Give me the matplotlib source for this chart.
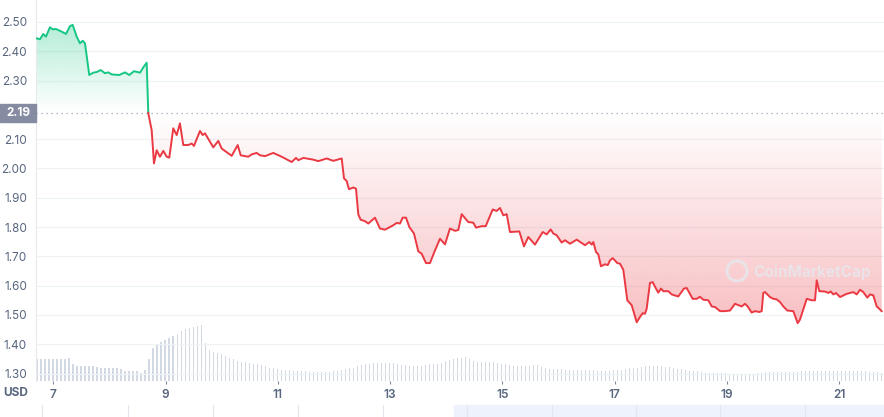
import numpy as np
import matplotlib
matplotlib.use("Agg")
from matplotlib import pyplot as plt
from matplotlib.patches import Polygon, Rectangle, Circle

# price (USD) over days of the month
days = [6.704, 6.763, 6.822, 6.870, 6.941, 6.989, 7.048, 7.150, 7.226, 7.298,
        7.346, 7.417, 7.476, 7.524, 7.565, 7.641, 7.713, 7.773, 7.844, 7.921,
        7.980, 8.041, 8.176, 8.278, 8.354, 8.438, 8.545, 8.604, 8.664, 8.693,
        8.753, 8.794, 8.842, 8.901, 8.960, 9.021, 9.067, 9.138, 9.199, 9.257,
        9.316, 9.405, 9.466, 9.507, 9.614, 9.662, 9.703, 9.851, 9.940, 10.000,
        10.179, 10.286, 10.339, 10.475, 10.535, 10.624, 10.683, 10.772, 10.920, 11.070,
        11.248, 11.325, 11.366, 11.455, 11.633, 11.722, 11.872, 11.989, 12.139, 12.180,
        12.228, 12.269, 12.346, 12.394, 12.435, 12.477, 12.554, 12.613, 12.732, 12.821,
        12.911, 13.000, 13.058, 13.119, 13.178, 13.226, 13.285, 13.344, 13.427, 13.504,
        13.564, 13.641, 13.712, 13.801, 13.890, 13.979, 14.068, 14.158, 14.217, 14.277,
        14.395, 14.484, 14.532, 14.634, 14.705, 14.830, 14.901, 14.960, 15.018, 15.079,
        15.138, 15.304, 15.387, 15.464, 15.583, 15.721, 15.792, 15.863, 15.909, 15.970,
        16.059, 16.118, 16.207, 16.327, 16.474, 16.551, 16.594, 16.623, 16.670, 16.711,
        16.759, 16.831, 16.879, 16.920, 16.968, 17.050, 17.098, 17.157, 17.228, 17.307,
        17.395, 17.454, 17.502, 17.543, 17.573, 17.632, 17.680, 17.739, 17.780, 17.828,
        17.869, 17.958, 18.019, 18.136, 18.238, 18.286, 18.327, 18.393, 18.465, 18.523,
        18.582, 18.672, 18.732, 18.791, 18.880, 18.969, 19.058, 19.147, 19.224, 19.266,
        19.325, 19.373, 19.444, 19.504, 19.580, 19.623, 19.651, 19.682, 19.771, 19.830,
        19.890, 19.949, 20.008, 20.079, 20.186, 20.264, 20.305, 20.425, 20.514, 20.573,
        20.603, 20.649, 20.751, 20.810, 20.852, 20.899, 20.947, 21.018, 21.138, 21.255,
        21.316, 21.375, 21.433, 21.505, 21.553, 21.611, 21.672, 21.761]
prices = [2.444, 2.441, 2.459, 2.450, 2.482, 2.475, 2.476, 2.467, 2.459, 2.486,
          2.490, 2.450, 2.427, 2.436, 2.427, 2.319, 2.327, 2.329, 2.336, 2.325,
          2.328, 2.321, 2.319, 2.328, 2.319, 2.332, 2.327, 2.345, 2.361, 2.188,
          2.131, 2.017, 2.062, 2.040, 2.060, 2.040, 2.037, 2.137, 2.114, 2.154,
          2.080, 2.080, 2.085, 2.077, 2.128, 2.114, 2.120, 2.072, 2.094, 2.068,
          2.043, 2.080, 2.045, 2.040, 2.048, 2.053, 2.045, 2.042, 2.053, 2.040,
          2.022, 2.036, 2.028, 2.036, 2.030, 2.025, 2.034, 2.026, 2.034, 1.966,
          1.957, 1.929, 1.935, 1.931, 1.843, 1.825, 1.820, 1.812, 1.832, 1.795,
          1.791, 1.800, 1.806, 1.814, 1.812, 1.832, 1.832, 1.800, 1.778, 1.717,
          1.709, 1.677, 1.677, 1.720, 1.760, 1.741, 1.795, 1.787, 1.790, 1.844,
          1.817, 1.815, 1.798, 1.803, 1.803, 1.860, 1.855, 1.865, 1.840, 1.844,
          1.783, 1.785, 1.734, 1.766, 1.740, 1.783, 1.775, 1.792, 1.778, 1.772,
          1.747, 1.755, 1.743, 1.757, 1.738, 1.749, 1.740, 1.749, 1.715, 1.707,
          1.666, 1.673, 1.670, 1.686, 1.694, 1.677, 1.675, 1.654, 1.550, 1.533,
          1.475, 1.493, 1.506, 1.504, 1.521, 1.609, 1.612, 1.590, 1.576, 1.590,
          1.581, 1.581, 1.570, 1.563, 1.590, 1.592, 1.578, 1.555, 1.555, 1.562,
          1.552, 1.550, 1.529, 1.527, 1.513, 1.513, 1.515, 1.538, 1.532, 1.529,
          1.538, 1.529, 1.508, 1.513, 1.510, 1.513, 1.575, 1.578, 1.561, 1.555,
          1.553, 1.544, 1.529, 1.515, 1.513, 1.472, 1.484, 1.555, 1.550, 1.550,
          1.618, 1.581, 1.580, 1.575, 1.580, 1.570, 1.575, 1.561, 1.572, 1.578,
          1.570, 1.586, 1.578, 1.559, 1.570, 1.567, 1.529, 1.513]

base_price = 2.19

# volume bars (arbitrary units), evenly spaced in time
vol_start = 6.710
vol_step = 0.0713
volume = [22, 22, 22, 22, 22, 22, 22, 22, 23, 17, 15, 15, 15, 15, 15, 14, 13, 13, 13, 13,
          13, 12, 10, 10, 10, 10, 8, 11, 22, 33, 37, 39, 41, 43, 45, 47, 50, 52, 53, 54,
          55, 56, 38, 31, 29, 28, 27, 25, 23, 22, 20, 19, 19, 18, 17, 17, 16, 15, 13, 13,
          12, 11, 11, 11, 10, 10, 10, 10, 9, 9, 9, 9, 9, 9, 10, 10, 11, 12, 13, 13,
          15, 16, 17, 17, 18, 18, 18, 18, 18, 18, 17, 16, 16, 15, 15, 15, 15, 16, 17, 17,
          17, 18, 20, 21, 22, 23, 23, 24, 22, 20, 19, 19, 19, 19, 19, 18, 17, 17, 16, 15,
          15, 15, 15, 15, 16, 16, 14, 13, 12, 12, 12, 12, 11, 11, 11, 11, 11, 11, 11, 11,
          10, 10, 10, 10, 11, 11, 11, 12, 13, 13, 13, 14, 15, 15, 15, 15, 15, 14, 14, 13,
          12, 12, 11, 10, 10, 10, 9, 8, 8, 8, 8, 8, 8, 7, 7, 7, 7, 7, 7, 7,
          8, 8, 9, 9, 9, 9, 9, 9, 9, 9, 9, 10, 10, 10, 10, 10, 10, 10, 10, 10,
          10, 10, 10, 10, 10, 10, 10, 10, 9, 9, 9, 8]

ytick_vals = [2.50, 2.40, 2.30, 2.10, 2.00, 1.90, 1.80, 1.70, 1.60, 1.50, 1.40, 1.30]
xtick_vals = [7, 9, 11, 13, 15, 17, 19, 21]

GREEN = "#16c784"
RED = "#ea3943"
TXT = "#58667e"
GRID = "#eff2f5"

plt.rcParams['font.family'] = ['Inter', 'DejaVu Sans']

d = np.array(days)
p = np.array(prices)

fig = plt.figure(figsize=(8.84, 4.17), dpi=100)
ax = fig.add_axes([36 / 884, 36 / 417, 848 / 884, 381 / 417])
ax.set_xlim(6.692, 21.802)
ax.set_ylim(1.2745, 2.575)

# volume axis underneath
ax2 = ax.twinx()
ax.set_zorder(ax2.get_zorder() + 1)
ax.patch.set_visible(False)
vt = vol_start + vol_step * np.arange(len(volume))
ax2.bar(vt, volume, width=0.02, color="#d3d9e3", linewidth=0)
ax2.set_ylim(0, 381)
ax2.axis("off")

# grid
for v in ytick_vals:
    ax.axhline(v, color=GRID, lw=0.9, zorder=0)

# gradient fills clipped to the area between price and the base line
x0, x1 = ax.get_xlim()
up = Polygon(np.column_stack([np.r_[d, d[::-1]],
                              np.r_[np.clip(p, base_price, None), np.full(len(d), base_price)]]),
             closed=True, fc="none", ec="none")
dn = Polygon(np.column_stack([np.r_[d, d[::-1]],
                              np.r_[np.clip(p, None, base_price), np.full(len(d), base_price)]]),
             closed=True, fc="none", ec="none")
ax.add_patch(up)
ax.add_patch(dn)

g = np.zeros((256, 1, 4))
g[:, 0, :3] = matplotlib.colors.to_rgb(GREEN)
g[:, 0, 3] = np.linspace(0.32, 0.0, 256)
im = ax.imshow(g, extent=[x0, x1, base_price, p.max()], aspect="auto", origin="upper", zorder=1)
im.set_clip_path(up)

r = np.zeros((256, 1, 4))
r[:, 0, :3] = matplotlib.colors.to_rgb(RED)
r[:, 0, 3] = np.linspace(0.0, 0.32, 256)
im2 = ax.imshow(r, extent=[x0, x1, p.min(), base_price], aspect="auto", origin="upper", zorder=1)
im2.set_clip_path(dn)

# line split at the base line
i = int(np.argmax(p < base_price))
t = (base_price - p[i - 1]) / (p[i] - p[i - 1])
xc = d[i - 1] + t * (d[i] - d[i - 1])
ax.plot(np.r_[d[:i], xc], np.r_[p[:i], base_price], color=GREEN, lw=1.4, zorder=3,
        solid_joinstyle="round")
ax.plot(np.r_[xc, d[i:]], np.r_[base_price, p[i:]], color=RED, lw=1.4, zorder=3,
        solid_joinstyle="round")

ax.axhline(base_price, color="#9aa3b2", lw=0.9, ls=(0, (1, 3)), zorder=2)
ax.set_xlim(x0, x1)
ax.set_ylim(1.2745, 2.575)

# axes styling
for s in ["top", "right", "bottom"]:
    ax.spines[s].set_visible(False)
ax.spines["left"].set_color("#e6e9ee")
ax.spines["left"].set_linewidth(0.8)
ax.set_yticks(ytick_vals)
ax.set_yticklabels([f"{v:.2f}" for v in ytick_vals])
ax.tick_params(axis="y", length=0, pad=6.5, labelsize=8.5, labelcolor=TXT)
ax.set_xticks(xtick_vals)
ax.set_xticklabels([str(v) for v in xtick_vals])
ax.tick_params(axis="x", length=2.5, width=0.8, color="#808a9d", pad=3, labelsize=8.5,
               labelcolor=TXT)
for lb in ax.get_xticklabels():
    lb.set_fontweight("semibold")

# base price tag
ax.add_patch(Rectangle((-36 / 848, 2.19 - 0.031), 36 / 848, 0.062,
                       transform=ax.get_yaxis_transform(), color="#858ca2",
                       clip_on=False, zorder=5))
ax.text(-18 / 848, 2.19, "2.19", transform=ax.get_yaxis_transform(), ha="center",
        va="center", color="white", fontsize=8.5, fontweight="bold", zorder=6)

fig.text(16 / 884, 1 - 393 / 417, "USD", ha="center", va="center", color=TXT,
         fontsize=8.5, fontweight="bold")

# watermark
fig.patches.append(Circle((7.37, 4.17 - 2.71), 0.10, transform=fig.dpi_scale_trans,
                          fc="none", ec="#e6e8ee", lw=2.2, alpha=0.8, zorder=4))
fig.text(753 / 884, 1 - 272 / 417, "CoinMarketCap", ha="left", va="center",
         color="#e6e8ee", alpha=0.8, fontsize=11, fontweight="bold")

# strip of the page below the chart
fig.patches.append(Rectangle((454 / 884, 0), 430 / 884, 12 / 417, transform=fig.transFigure,
                             color="#eef2fd", zorder=0))
for xs in [42, 128, 213, 298, 383, 467, 552, 636, 720, 805]:
    fig.add_artist(plt.Line2D([xs / 884, xs / 884], [0, 12 / 417], color="#e3e6ec", lw=0.8))

fig.savefig("out.png", dpi=100)
